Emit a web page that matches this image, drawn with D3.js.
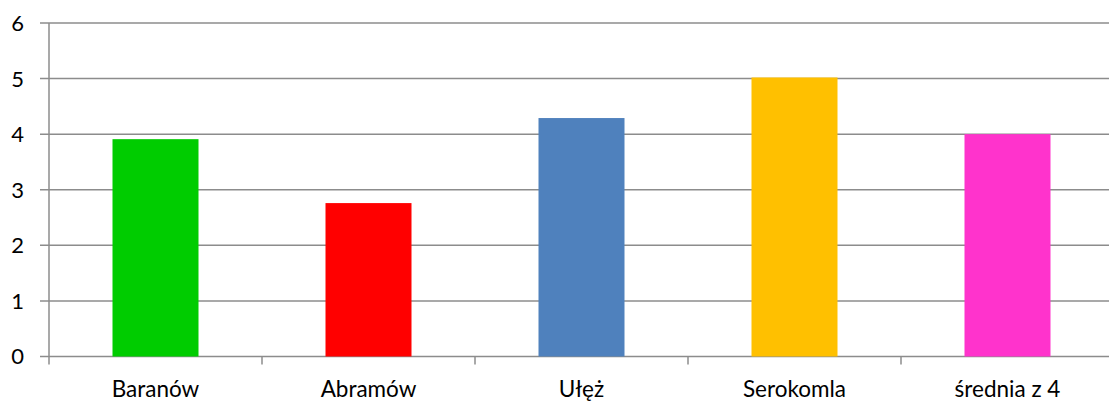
<!DOCTYPE html>
<html>
<head>
	<meta charset="utf-8">
	<title>Wykres</title>
	<style type="text/css">
		body { margin: 0; background: #fff; }
		.grid line { stroke: #8c8c8c; stroke-width: 1.5; }
		text { font-family: Lato, "Open Sans", sans-serif; fill: #000; }
	</style>
</head>
<body>
	<div id="chart"></div>
	<script src="https://d3js.org/d3.v7.min.js"></script>
	<script type="text/javascript">
		var categories = ["Baranów", "Abramów", "Ułęż", "Serokomla", "średnia z 4"];
		var values = [3.91, 2.76, 4.29, 5.02, 4.0];
		var colors = ["#00cc00", "#ff0000", "#4f81bd", "#ffc000", "#ff33cc"];
		var yTicks = [0, 1, 2, 3, 4, 5, 6];

		var width = 1109,
			height = 401,
			plotLeft = 49,
			plotRight = 1114,
			plotTop = 23,
			plotBottom = 356.5;

		var svg = d3.select('#chart')
			.append('svg')
			.attr('width', width)
			.attr('height', height);

		var x = d3.scaleBand().domain(categories).range([plotLeft, plotRight]).paddingInner(0).paddingOuter(0),
			y = d3.scaleLinear().domain([0, 6]).range([plotBottom, plotTop]);

		// horizontal gridlines
		var grid = svg.append('g').attr('class', 'grid');
		grid.selectAll('line.h')
			.data(yTicks)
			.enter()
			.append('line')
			.attr('class', 'h')
			.attr('x1', plotLeft - 9)
			.attr('x2', width)
			.attr('y1', function(d) { return y(d); })
			.attr('y2', function(d) { return y(d); });

		// y axis line
		grid.append('line')
			.attr('x1', plotLeft).attr('x2', plotLeft)
			.attr('y1', plotTop).attr('y2', plotBottom + 8);

		// category ticks on x axis
		grid.selectAll('line.xtick')
			.data(categories.slice(1))
			.enter()
			.append('line')
			.attr('class', 'xtick')
			.attr('x1', function(d) { return x(d); })
			.attr('x2', function(d) { return x(d); })
			.attr('y1', plotBottom)
			.attr('y2', plotBottom + 8);

		svg.selectAll('text.ylab')
			.data(yTicks)
			.enter()
			.append('text')
			.attr('class', 'ylab')
			.attr('x', 24)
			.attr('y', function(d) { return y(d); })
			.attr('dy', '0.36em')
			.attr('text-anchor', 'end')
			.attr('font-size', '22px')
			.text(function(d) { return d; });

		// bars
		var barW = 86;
		svg.selectAll('rect.bar')
			.data(values)
			.enter()
			.append('rect')
			.attr('class', 'bar')
			.attr('x', function(d, i) { return x(categories[i]) + x.bandwidth() / 2 - barW / 2; })
			.attr('width', barW)
			.attr('y', function(d) { return y(d); })
			.attr('height', function(d) { return y(0) - y(d); })
			.attr('fill', function(d, i) { return colors[i]; });

		// category labels
		svg.selectAll('text.xlab')
			.data(categories)
			.enter()
			.append('text')
			.attr('class', 'xlab')
			.attr('x', function(d) { return x(d) + x.bandwidth() / 2; })
			.attr('y', 397)
			.attr('text-anchor', 'middle')
			.attr('font-size', '22.5px')
			.text(function(d) { return d; });
	</script>
</body>
</html>
